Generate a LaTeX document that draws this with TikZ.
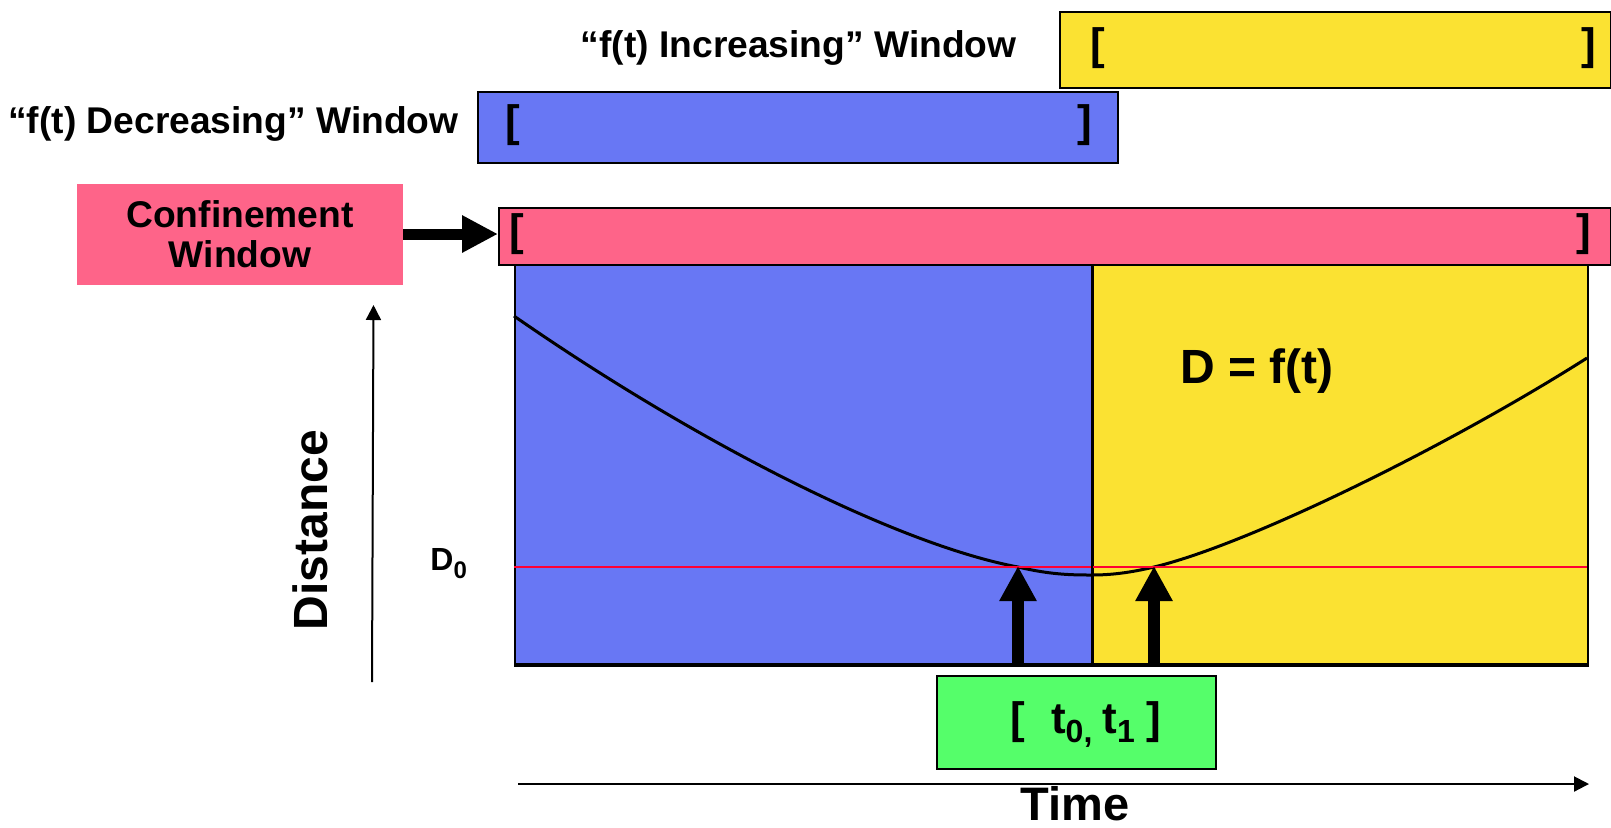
\documentclass[tikz,border=0pt]{standalone}
\usepackage{fontspec}
\setmainfont{Liberation Sans}
\usetikzlibrary{arrows.meta}
\definecolor{wblue}{RGB}{104,119,244}
\definecolor{wyellow}{RGB}{251,226,50}
\definecolor{wpink}{RGB}{254,100,137}
\definecolor{wgreen}{RGB}{85,254,106}
\definecolor{wred}{RGB}{255,0,51}
\newcommand{\subfnt}{\fontsize{16}{16}\selectfont}
\begin{document}
\begin{tikzpicture}[x=0.5pt,y=-0.5pt,
  winbox/.style={draw=black, line width=1pt, inner sep=0pt, anchor=north west},
  brk/.style={font=\fontsize{22}{22}\selectfont\bfseries, inner sep=0pt},
  lbl/.style={font=\fontsize{18.6}{20}\selectfont\bfseries, inner sep=0pt},
  big/.style={font=\fontsize{24}{26}\selectfont\bfseries, inner sep=0pt},
  axisarrow/.style={line width=1pt, -{Triangle[length=7.5pt,width=7.5pt]}},
  fatarrow/.style={line width=6pt, -{Triangle[length=17.5pt,width=17.5pt]}},
  confarrow/.style={line width=5.5pt, -{Triangle[length=18pt,width=17.5pt]}}]
\useasboundingbox (0,0) rectangle (1611,827);

% top windows
\node[winbox, fill=wyellow, minimum width=275.5pt, minimum height=38pt] (incbox) at (1059,11) {};
\node[brk] (incL) at (1098,48) {[};
\node[brk] (incR) at (1589,48) {]};
\node[lbl, anchor=base east] (inclbl) at (1017,57) {“f(t) Increasing” Window};

\node[winbox, fill=wblue, minimum width=320pt, minimum height=35.5pt] (decbox) at (477,91) {};
\node[brk] (decL) at (513,125) {[};
\node[brk] (decR) at (1085,125) {]};
\node[lbl, anchor=base east] (declbl) at (459,133) {“f(t) Decreasing” Window};

% plot regions
\node[draw=black, line width=1pt, fill=wblue, minimum width=289pt, minimum height=199.5pt, inner sep=0pt, anchor=north west] (decreg) at (514,264) {};
\node[draw=black, line width=1pt, fill=wyellow, minimum width=247.5pt, minimum height=199.5pt, inner sep=0pt, anchor=north west] (increg) at (1092,264) {};
\draw[line width=2pt] (decreg.south west) -- (increg.south east);

% confinement window
\node[winbox, fill=wpink, minimum width=556pt, minimum height=28.5pt] (pinkbar) at (498,207) {};
\node[brk] (pinkL) at (517,234) {[};
\node[brk] (pinkR) at (1584,234) {]};
\node[lbl, fill=wpink, minimum width=163pt, minimum height=50.5pt, align=center] (conf) at (240,234) {Confinement\\Window};
\draw[confarrow] (conf.east) -- (conf.east -| pinkbar.west);

% curve and threshold
\coordinate (c0) at (514,316);
\coordinate (c1) at (1018,567);
\coordinate (c2) at (1092,575);
\coordinate (c3) at (1154,567);
\coordinate (c4) at (1587,358);
\draw[line width=1.5pt] (c0) .. controls (700,445) and (900,545) .. (c1)
  .. controls (1050,574.5) and (1070,575) .. (c2)
  .. controls (1115,575) and (1135,571.5) .. (c3)
  .. controls (1250,544) and (1450,445) .. (c4);
\coordinate (d0l) at (514,567);
\coordinate (d0r) at (1587,567);
\draw[wred, line width=1.2pt] (d0l) -- (d0r);
\draw[line width=1.2pt] (increg.north west) -- (increg.south west);
\node[anchor=base west, font=\fontsize{16}{16}\selectfont\bfseries, inner sep=0pt] (dzero) at (430,570) {D\raisebox{-4pt}{\fontsize{12}{12}\selectfont 0}};
\node[big, anchor=base] (fnlbl) at (1257,383) {D = f(t)};

% t0, t1 arrows
\coordinate (t0base) at (1018,663);
\coordinate (t0tip) at (1018,566);
\coordinate (t1base) at (1154,663);
\coordinate (t1tip) at (1154,566);
\draw[fatarrow] (t0base) -- (t0tip);
\draw[fatarrow] (t1base) -- (t1tip);

\node[draw=black, line width=0.75pt, fill=wgreen, minimum width=139.5pt, minimum height=46.5pt, inner sep=0pt, anchor=north west] (tbox) at (936,675) {};
\node[anchor=base west, font=\fontsize{22}{22}\selectfont\bfseries, inner sep=0pt] (tlbl) at (1010,733) {[\hspace{13pt}t\raisebox{-4.5pt}{\subfnt 0,}\hspace{5pt}t\raisebox{-4.5pt}{\subfnt 1}\hspace{6pt}]};

% axes
\coordinate (tstart) at (518,784);
\coordinate (tend) at (1589,784);
\draw[axisarrow] (tstart) -- (tend);
\node[anchor=base, font=\fontsize{23.5}{23.5}\selectfont\bfseries, inner sep=0pt] (timelbl) at (1075,820) {Time};

\coordinate (dstart) at (372,682);
\coordinate (dend) at (373.5,305);
\draw[axisarrow] (dstart) -- (dend);
\node[anchor=base, rotate=90, font=\fontsize{24}{24}\selectfont\bfseries, inner sep=0pt] (distlbl) at (327,530) {Distance};
\end{tikzpicture}
\end{document}
